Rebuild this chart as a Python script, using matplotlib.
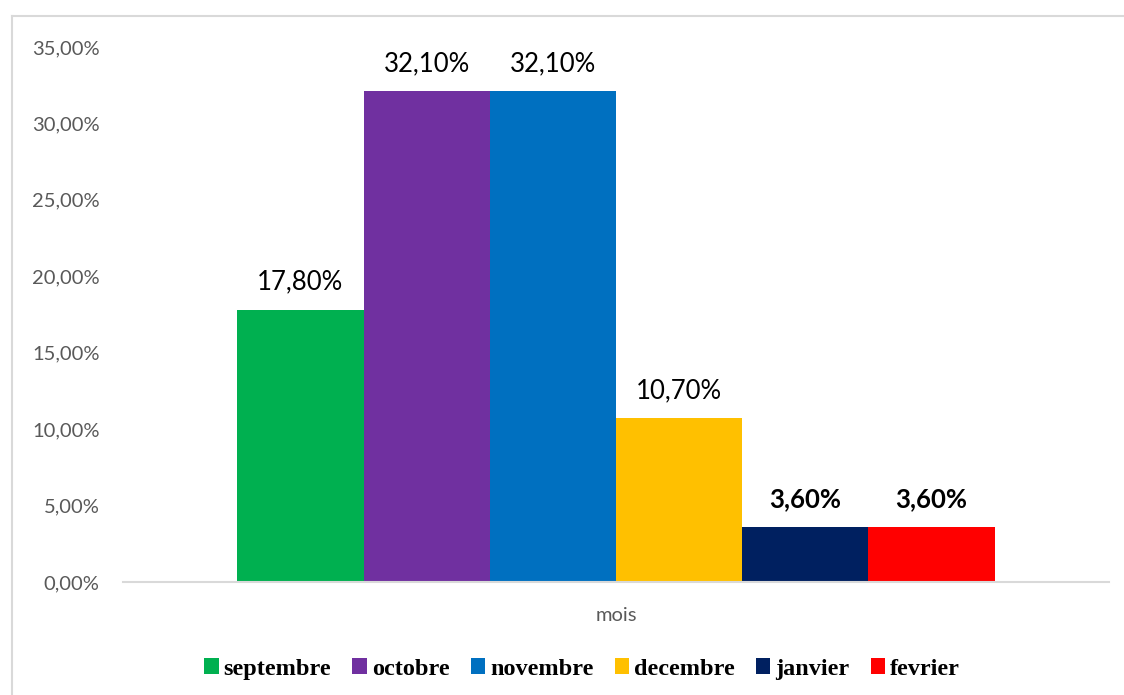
import matplotlib
matplotlib.use("Agg")
import matplotlib.pyplot as plt
from matplotlib.patches import Rectangle
from matplotlib.lines import Line2D
from matplotlib.ticker import FuncFormatter

# Share of cases per month (percent)
months = ["septembre", "octobre", "novembre", "decembre", "janvier", "fevrier"]
values = [17.80, 32.10, 32.10, 10.70, 3.60, 3.60]
label_bold = [False, False, False, False, True, True]
colors = ["#00B050", "#7030A0", "#0070C0", "#FFC000", "#002060", "#FF0000"]
category = "mois"
y_ticks = [0, 5, 10, 15, 20, 25, 30, 35]

W, H = 1124, 695
fig = plt.figure(figsize=(W / 100, H / 100), dpi=100)
fig.patch.set_facecolor("white")

# Chart area frame (top and left edges visible)
fig.add_artist(Line2D([12 / W, 12 / W], [0, 1 - 16 / H], transform=fig.transFigure,
                      color="#D9D9D9", lw=1.5))
fig.add_artist(Line2D([12 / W, 1], [1 - 16 / H, 1 - 16 / H], transform=fig.transFigure,
                      color="#D9D9D9", lw=1.5))

left, right = 123 / W, 1109 / W
bottom, top = 1 - 582 / H, 1 - 47 / H
ax = fig.add_axes([left, bottom, right - left, top - bottom])

n = len(values)
group_width = 0.768
bar_w = group_width / n
for i, (v, c) in enumerate(zip(values, colors)):
    x = -group_width / 2 + bar_w * (i + 0.5)
    ax.bar(x, v, width=bar_w, color=c, edgecolor="none", zorder=2)
    ax.annotate(f"{v:.2f}".replace(".", ",") + "%", (x, v), xytext=(0, 20),
                textcoords="offset points", ha="center", va="center",
                fontsize=18.5, family="Lato",
                fontweight="bold" if label_bold[i] else "normal", color="black")

ax.set_xlim(-0.5, 0.5)
ax.set_ylim(0, 35)
ax.set_yticks(y_ticks)
ax.yaxis.set_major_formatter(FuncFormatter(lambda v, p: f"{v:.2f}".replace(".", ",") + "%"))
ax.set_xticks([0])
ax.set_xticklabels([category])
for lab in ax.get_yticklabels() + ax.get_xticklabels():
    lab.set_family("Lato")
    lab.set_fontsize(14.5)
    lab.set_color("#595959")
ax.tick_params(axis="y", length=0, pad=17)
ax.tick_params(axis="x", length=0, pad=18)
for s in ["top", "right", "left"]:
    ax.spines[s].set_visible(False)
ax.spines["bottom"].set_color("#D9D9D9")
ax.spines["bottom"].set_linewidth(1.5)
ax.spines["bottom"].set_zorder(3)

handles = [Rectangle((0, 0), 1, 1, facecolor=c, edgecolor="none") for c in colors]
leg = fig.legend(handles, months, loc="center", bbox_to_anchor=(582 / W, 1 - 669 / H),
                 ncol=n, frameon=False, handlelength=0.6, handleheight=0.6,
                 handletextpad=0.2, columnspacing=0.87,
                 prop={"family": "Liberation Serif", "weight": "bold", "size": 17.5})

fig.savefig("out.png", dpi=100, facecolor="white")
